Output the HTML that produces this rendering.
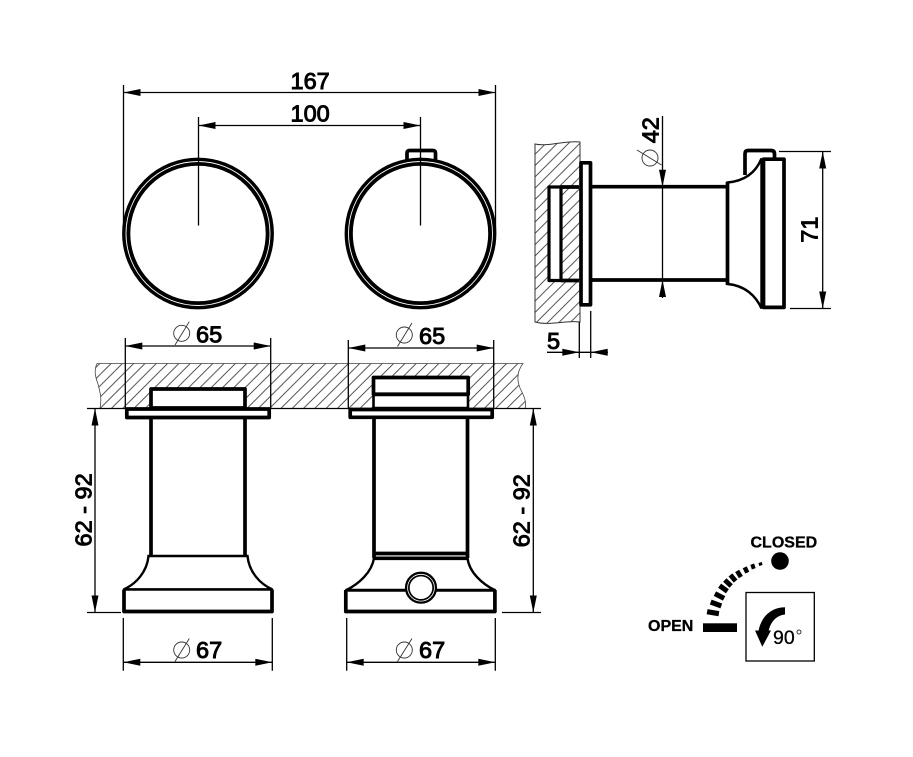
<!DOCTYPE html>
<html>
<head>
<meta charset="utf-8">
<style>
html,body{margin:0;padding:0;background:#fff;width:913px;height:757px;overflow:hidden}
svg{display:block}
text{font-family:"Liberation Sans",sans-serif;fill:#000}
.d{font-size:23.5px;stroke:#000;stroke-width:.95px}
.t{fill:none;stroke:#000;stroke-width:1.3}
.k{fill:#fff;stroke:#000;stroke-width:3.7;stroke-linejoin:round}
.n{fill:none;stroke:#000;stroke-width:3.7;stroke-linejoin:round}
.m{fill:none;stroke:#000;stroke-width:2.4}
</style>
</head>
<body>
<svg width="913" height="757" viewBox="0 0 913 757" xmlns="http://www.w3.org/2000/svg">
<defs>
<pattern id="h" patternUnits="userSpaceOnUse" width="11.3" height="11.3">
<path d="M-1 12.3L12.3 -1M-3 3L3 -3M8.3 14.3L14.3 8.3" stroke="#333" stroke-width=".8" fill="none"/>
</pattern>
<polygon id="a" points="0,0 17,-3.5 17,3.5" fill="#000"/>
</defs>
<rect width="913" height="757" fill="#fff"/>

<!-- walls -->
<path d="M97 363.5L523 363.5C518 370 516 378 520 388C524 396 527 402 525 408.5L100 408.5C102 398 100 392 98 384C95 376 94 370 97 363.5Z" fill="url(#h)"/>
<path d="M97 363.5L523 363.5C518 370 516 378 520 388C524 396 527 402 525 408.5M100 408.5C102 398 100 392 98 384C95 376 94 370 97 363.5" fill="none" stroke="#444" stroke-width=".8"/>
<path d="M535 144C548 147 566 140 580 142L580 322C566 320 550 326 535 322Z" fill="url(#h)"/>
<path d="M535 144C548 147 566 140 580 142L580 322C566 320 550 326 535 322Z" fill="none" stroke="#333" stroke-width="1"/>
<path d="M87 408.5H541" class="t"/>

<!-- top circles -->
<circle cx="198" cy="233.5" r="71.8" fill="#fff" stroke="#000" stroke-width="8.2"/>
<circle cx="198" cy="233.5" r="72" fill="none" stroke="#fff" stroke-width=".9"/>
<path d="M407 160V153Q407 150.5 410 150.5H432.5Q435.5 150.5 435.5 153V160" class="n"/>
<circle cx="420.5" cy="233.5" r="71.8" fill="#fff" stroke="#000" stroke-width="8.2"/>
<circle cx="420.5" cy="233.5" r="72" fill="none" stroke="#fff" stroke-width=".9"/>

<!-- top dims -->
<path d="M123.5 85V233M495.5 85V233M123.5 92.5H495.5M198.5 117V225.5M420.5 117V225.5M198.5 125.500H420.500" class="t"/>
<use href="#a" transform="translate(123.5 92.5)"/>
<use href="#a" transform="translate(495.5 92.5) rotate(180)"/>
<use href="#a" transform="translate(198.5 125.5)"/>
<use href="#a" transform="translate(420.5 125.5) rotate(180)"/>
<text class="d" x="290.5" y="89">167</text>
<text class="d" x="290.5" y="121.5">100</text>

<!-- side view -->
<rect x="549" y="187" width="12" height="93.500" class="k" style="stroke-width:3.2"/>
<path d="M561 187H579M561 280.500H579" class="n"/>
<path d="M592 186.700H727M592 280H727" class="n"/>
<rect x="581" y="162.800" width="9.500" height="142" class="k"/>
<path d="M745 175V154Q745 150.500 748 150.500H771Q774.500 150.500 774.500 154V159" class="n"/>
<path d="M727.500 182.500C745 181 756 172 761.500 158.500L761.500 308.500C756 296 745 285.500 727.500 284Z" fill="#fff" stroke="#000" stroke-width="2.400"/>
<path d="M727.500 182V285" class="n"/>
<rect x="763.500" y="159.200" width="20.500" height="148.200" class="k"/>

<path d="M662.500 116V298M779 151.500H831M790 308.500H831M822.700 151.500V308.500" class="t"/>
<use href="#a" transform="translate(662.500 186.700) rotate(-90)"/>
<use href="#a" transform="translate(662.500 280) rotate(90)"/>
<use href="#a" transform="translate(822.700 151.500) rotate(90)"/>
<use href="#a" transform="translate(822.700 308.500) rotate(-90)"/>
<text class="d" transform="translate(658.300 143.300) rotate(-90)">42</text>
<circle cx="650" cy="158" r="8" fill="none" stroke="#333" stroke-width=".9"/>
<path d="M637 150L661.500 165" fill="none" stroke="#333" stroke-width=".9"/>
<text class="d" transform="translate(817.700 242.700) rotate(-90)">71</text>

<path d="M579.300 322V358M590.700 311V358M547 352.300H608" class="t"/>
<use href="#a" transform="translate(579.300 352.300) rotate(180)"/>
<use href="#a" transform="translate(590.700 352.300)"/>
<text class="d" x="547" y="349">5</text>

<!-- left pin -->
<rect x="151" y="389" width="94" height="19" class="k"/>
<path d="M151 419V556M245 419V556" class="n"/>
<path d="M148.500 556C147 572 136 584 123.500 589.500H272.500C260 584 249 572 247.500 556Z" fill="#fff" stroke="#000" stroke-width="2.400"/>
<rect x="126.800" y="409" width="142.400" height="8.500" class="k"/>
<rect x="124" y="589.500" width="148" height="22" fill="#fff" stroke="none"/>
<path d="M123.500 589.500H272.500" class="m"/>
<path d="M124 589.500V611.500H272V589.500" class="n"/>

<path d="M125.300 338V408M270.700 338V408M125.300 346H270.700" class="t"/>
<use href="#a" transform="translate(125.300 346)"/>
<use href="#a" transform="translate(270.700 346) rotate(180)"/>
<text class="d" x="196" y="342.500">65</text>
<circle cx="181.700" cy="333.300" r="8" fill="none" stroke="#333" stroke-width=".9"/>
<path d="M175 345L189.300 321.700" fill="none" stroke="#333" stroke-width=".9"/>

<path d="M87 612.500H121M95 408.500V612.500" class="t"/>
<use href="#a" transform="translate(95 408.500) rotate(90)"/>
<use href="#a" transform="translate(95 612.500) rotate(-90)"/>
<text class="d" transform="translate(91.500 546.500) rotate(-90)">62 - 92</text>

<path d="M123.300 618V670.700M272.300 618V670.700M123.300 662.300H272.300" class="t"/>
<use href="#a" transform="translate(123.300 662.300)"/>
<use href="#a" transform="translate(272.300 662.300) rotate(180)"/>
<text class="d" x="196" y="658">67</text>
<circle cx="181.700" cy="650" r="8" fill="none" stroke="#333" stroke-width=".9"/>
<path d="M175 661.500L189.300 638.500" fill="none" stroke="#333" stroke-width=".9"/>

<!-- right pin -->
<rect x="373.500" y="395" width="94.500" height="13" class="k" style="stroke-width:2.600"/>
<rect x="373.500" y="377.500" width="94.700" height="16.700" class="k"/>
<path d="M374 419V558M467.500 419V558" class="n"/>
<path d="M374 558C372 572 359 584 345.500 590.500H495.500C482 584 469 572 467.500 558Z" fill="#fff" stroke="#000" stroke-width="2.400"/>
<path d="M374 553.500H467.500" class="n"/>
<path d="M374 558.300H467.500" class="n"/>
<rect x="350.200" y="409.500" width="142" height="7.800" class="k"/>
<path d="M345.500 590H495.500" class="m"/>
<path d="M345.800 590V611.500H494.900V590" class="n"/>
<circle cx="421" cy="587.700" r="13.700" fill="#fff" stroke="#000" stroke-width="4.800"/>
<circle cx="421" cy="587.700" r="13.400" fill="none" stroke="#fff" stroke-width=".8"/>

<path d="M348.300 340V408M493.700 340V408M348.300 348H493.700" class="t"/>
<use href="#a" transform="translate(348.300 348)"/>
<use href="#a" transform="translate(493.700 348) rotate(180)"/>
<text class="d" x="419" y="344">65</text>
<circle cx="404.300" cy="335" r="8" fill="none" stroke="#333" stroke-width=".9"/>
<path d="M397.500 346.500L412 323" fill="none" stroke="#333" stroke-width=".9"/>

<path d="M502 612.500H541M533.300 408.500V612.500" class="t"/>
<use href="#a" transform="translate(533.300 408.500) rotate(90)"/>
<use href="#a" transform="translate(533.300 612.500) rotate(-90)"/>
<text class="d" transform="translate(529.300 547.300) rotate(-90)">62 - 92</text>

<path d="M346.700 618V670.700M495.300 618V670.700M346.700 662.300H495.300" class="t"/>
<use href="#a" transform="translate(346.700 662.300)"/>
<use href="#a" transform="translate(495.300 662.300) rotate(180)"/>
<text class="d" x="419" y="658">67</text>
<circle cx="404.300" cy="650" r="8" fill="none" stroke="#333" stroke-width=".9"/>
<path d="M397.500 661.500L412 638.500" fill="none" stroke="#333" stroke-width=".9"/>

<!-- legend -->
<text x="750.500" y="547.500" font-size="16" font-weight="700" stroke="#000" stroke-width=".3">CLOSED</text>
<circle cx="780" cy="561" r="8.800" fill="#000"/>
<text x="648" y="631" font-size="16" font-weight="700" stroke="#000" stroke-width=".3">OPEN</text>
<rect x="703" y="623.300" width="34" height="8.700" fill="#000"/>
<g fill="none" stroke="#000">
<path stroke-width="5.200" d="M707.100 611.700L718.900 613.700"/>
<path stroke-width="5.200" d="M710.700 602.100L721.300 605.900"/>
<path stroke-width="5" d="M714.900 593.600L724.100 598.400"/>
<path stroke-width="5" d="M719.600 585.700L727.400 591.300"/>
<path stroke-width="4.800" d="M724.800 580L731.200 586"/>
<path stroke-width="4.800" d="M730.400 574.900L735.600 581.100"/>
<path stroke-width="4.600" d="M737.100 570.900L740.900 577.100"/>
<path stroke-width="4.400" d="M744.700 567.300L747.300 572.700"/>
<path stroke-width="4" d="M752.200 564.200L753.800 568.800"/>
<path stroke-width="3.400" d="M760.100 562.500L760.900 565.500"/>
</g>
<rect x="746" y="592.500" width="68.300" height="68.500" fill="#fff" stroke="#000" stroke-width="1.300"/>
<path d="M785 607.300C771 607.500 761 617 758.500 631L768.500 631.500C770.500 622 776 615.500 785 614.500Z" fill="#000"/>
<polygon points="755,630.500 771,630.500 762.300,646.700" fill="#000"/>
<text x="773" y="644" font-size="19.500" stroke="#000" stroke-width=".3">90</text>
<circle cx="799" cy="632" r="2" fill="none" stroke="#000" stroke-width=".8"/>
</svg>
</body>
</html>
